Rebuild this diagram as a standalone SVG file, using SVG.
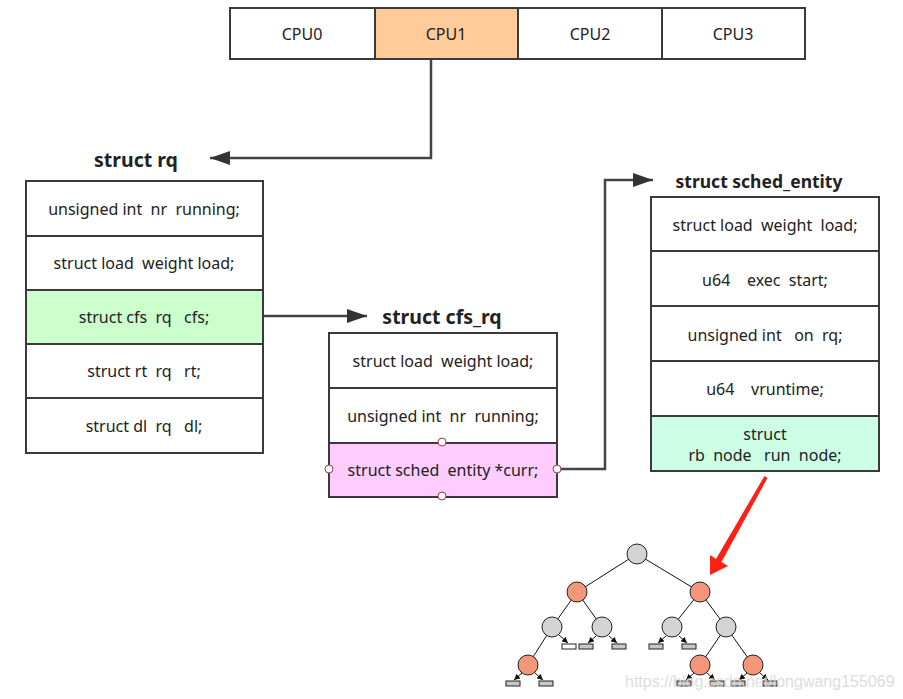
<svg xmlns="http://www.w3.org/2000/svg" width="903" height="699" viewBox="0 0 903 699">
<style>
.box{stroke:#3a3a3a;stroke-width:2;fill:#fff}
.t{font-family:"Noto Sans","Open Sans",sans-serif;font-size:16px;fill:#222;text-anchor:middle;dominant-baseline:central;white-space:pre}
.title{font-family:"Noto Sans","Open Sans",sans-serif;font-size:19.5px;font-weight:bold;fill:#222;text-anchor:middle}
.conn{fill:none;stroke:#444;stroke-width:2.5}
.tl{stroke:#111;stroke-width:1;fill:none}
.gray{fill:#d4d4d6;stroke:#222;stroke-width:1}
.red{fill:#f4967a;stroke:#222;stroke-width:1}
.leaf{fill:#c8c8c8;stroke:#222;stroke-width:1}
.pt{fill:#fff;stroke:#a04040;stroke-width:1}
</style>
<defs>
<marker id="ah" viewBox="0 0 20 14" refX="20" refY="7" markerWidth="20" markerHeight="14" markerUnits="userSpaceOnUse" orient="auto">
<path d="M0,0 L20,7 L0,14 Z" fill="#333"/>
</marker>
<marker id="sa" viewBox="0 0 6 6" refX="6" refY="3" markerWidth="6" markerHeight="6" markerUnits="userSpaceOnUse" orient="auto">
<path d="M0,0 L6,3 L0,6 Z" fill="#111"/>
</marker>
</defs>

<g id="cpus">
<rect class="box" x="230" y="8" width="145" height="51"/>
<rect class="box" x="375" y="8" width="143" height="51" style="fill:#ffcc99"/>
<rect class="box" x="518" y="8" width="144" height="51"/>
<rect class="box" x="662" y="8" width="143" height="51"/>
<text class="t" x="302" y="34">CPU0</text>
<text class="t" x="446" y="34">CPU1</text>
<text class="t" x="590" y="34">CPU2</text>
<text class="t" x="733" y="34">CPU3</text>
</g>

<g id="rq">
<text class="title" x="136" y="167">struct rq</text>
<rect class="box" x="26" y="181" width="237" height="55"/>
<rect class="box" x="26" y="236" width="237" height="54"/>
<rect class="box" x="26" y="290" width="237" height="54" style="fill:#ccffcc"/>
<rect class="box" x="26" y="344" width="237" height="54"/>
<rect class="box" x="26" y="398" width="237" height="55"/>
<text class="t" x="144" y="209" xml:space="preserve">unsigned int  nr  running;</text>
<text class="t" x="144" y="263" xml:space="preserve">struct load  weight load;</text>
<text class="t" x="144" y="317" xml:space="preserve">struct cfs  rq   cfs;</text>
<text class="t" x="144" y="371" xml:space="preserve">struct rt  rq   rt;</text>
<text class="t" x="144" y="426" xml:space="preserve">struct dl  rq   dl;</text>
</g>

<g id="cfs_rq">
<text class="title" x="442" y="324">struct cfs_rq</text>
<rect class="box" x="329" y="333" width="228" height="55"/>
<rect class="box" x="329" y="388" width="228" height="55"/>
<rect class="box" x="329" y="443" width="228" height="54" style="fill:#ffccff"/>
<text class="t" x="443" y="361" xml:space="preserve">struct load  weight load;</text>
<text class="t" x="443" y="416" xml:space="preserve">unsigned int  nr  running;</text>
<text class="t" x="443" y="470" xml:space="preserve">struct sched  entity *curr;</text>
<circle class="pt" cx="442" cy="442" r="4"/>
<circle class="pt" cx="329" cy="469" r="4"/>
<circle class="pt" cx="557" cy="469" r="4"/>
<circle class="pt" cx="442" cy="496" r="4"/>
</g>

<g id="sched_entity">
<text class="title" x="759" y="188" style="font-size:17.5px">struct sched_entity</text>
<rect class="box" x="651" y="197" width="228" height="54"/>
<rect class="box" x="651" y="251" width="228" height="55"/>
<rect class="box" x="651" y="306" width="228" height="55"/>
<rect class="box" x="651" y="361" width="228" height="55"/>
<rect class="box" x="651" y="416" width="228" height="55" style="fill:#ccffe6"/>
<text class="t" x="765" y="225" xml:space="preserve">struct load  weight  load;</text>
<text class="t" x="765" y="280" xml:space="preserve">u64    exec  start;</text>
<text class="t" x="765" y="335" xml:space="preserve">unsigned int   on  rq;</text>
<text class="t" x="765" y="389" xml:space="preserve">u64    vruntime;</text>
<text class="t" x="765" y="434">struct</text>
<text class="t" x="765" y="455" xml:space="preserve">rb  node   run  node;</text>
</g>

<g id="connectors">
<path class="conn" d="M431,60 V158 H210" marker-end="url(#ah)"/>
<path class="conn" d="M264,316 H367" marker-end="url(#ah)"/>
<path class="conn" d="M561,469 H605 V180 H653" marker-end="url(#ah)"/>
<path d="M764.5,476 L767.5,478 L721.5,562 L728,566 L710,575 L710,555 L716,559 Z" fill="#ff2015"/>
</g>

<g id="rbtree">
<g class="tl">
<line x1="637" y1="554" x2="577" y2="592"/>
<line x1="637" y1="554" x2="700" y2="592"/>
<line x1="577" y1="592" x2="552" y2="627"/>
<line x1="577" y1="592" x2="602" y2="627"/>
<line x1="700" y1="592" x2="672" y2="627"/>
<line x1="700" y1="592" x2="726" y2="627"/>
<line x1="552" y1="627" x2="528" y2="665"/>
<line x1="726" y1="627" x2="700" y2="665"/>
<line x1="726" y1="627" x2="753" y2="665"/>
<line x1="559" y1="635" x2="568" y2="643" marker-end="url(#sa)"/>
<line x1="596" y1="636" x2="588" y2="643" marker-end="url(#sa)"/>
<line x1="609" y1="636" x2="617" y2="643" marker-end="url(#sa)"/>
<line x1="666" y1="636" x2="658" y2="643" marker-end="url(#sa)"/>
<line x1="679" y1="636" x2="687" y2="643" marker-end="url(#sa)"/>
<line x1="522" y1="673" x2="514" y2="680" marker-end="url(#sa)"/>
<line x1="535" y1="673" x2="543" y2="680" marker-end="url(#sa)"/>
<line x1="694" y1="673" x2="686" y2="680" marker-end="url(#sa)"/>
<line x1="707" y1="673" x2="715" y2="680" marker-end="url(#sa)"/>
<line x1="747" y1="673" x2="739" y2="680" marker-end="url(#sa)"/>
<line x1="760" y1="673" x2="768" y2="680" marker-end="url(#sa)"/>
</g>
<circle class="gray" cx="637" cy="554" r="10"/>
<circle class="red" cx="577" cy="592" r="10"/>
<circle class="red" cx="700" cy="592" r="10"/>
<circle class="gray" cx="552" cy="627" r="10"/>
<circle class="gray" cx="602" cy="627" r="10"/>
<circle class="gray" cx="672" cy="627" r="10"/>
<circle class="gray" cx="726" cy="627" r="10"/>
<circle class="red" cx="528" cy="665" r="10"/>
<circle class="red" cx="700" cy="665" r="10"/>
<circle class="red" cx="753" cy="665" r="10"/>
<rect class="leaf" x="562" y="644" width="14" height="5" style="fill:#fff"/>
<rect class="leaf" x="579" y="644" width="14" height="5"/>
<rect class="leaf" x="612" y="644" width="14" height="5"/>
<rect class="leaf" x="649" y="644" width="14" height="5"/>
<rect class="leaf" x="682" y="644" width="14" height="5"/>
<rect class="leaf" x="506" y="681" width="14" height="5"/>
<rect class="leaf" x="539" y="681" width="14" height="5"/>
<rect class="leaf" x="677" y="681" width="14" height="5"/>
<rect class="leaf" x="710" y="681" width="14" height="5"/>
<rect class="leaf" x="731" y="681" width="14" height="5"/>
<rect class="leaf" x="763" y="681" width="14" height="5"/>
</g>

<text x="625" y="687" style="font-family:'Liberation Sans',Arial,sans-serif;font-size:16px;fill:#d8d8d8;opacity:0.85">https://blog.csdn.net/longwang155069</text>
</svg>
